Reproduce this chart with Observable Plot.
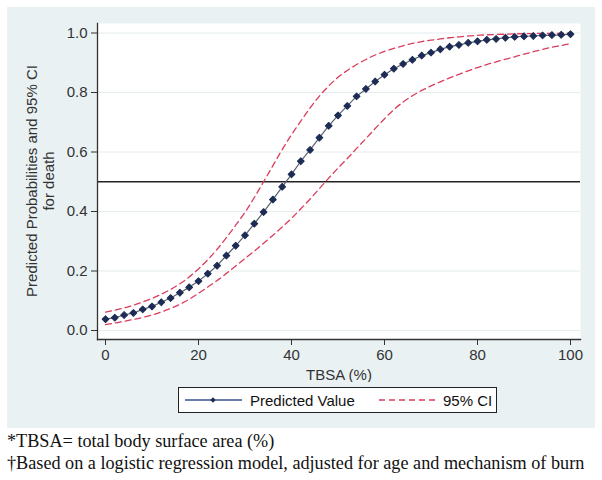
<!DOCTYPE html>
<html>
<head>
<meta charset="utf-8">
<script src="https://cdn.jsdelivr.net/npm/d3@7"></script>
<script src="https://cdn.jsdelivr.net/npm/@observablehq/plot@0.6"></script>
<style>
  html, body { margin: 0; padding: 0; background: #ffffff; }
  #panel { position: absolute; left: 7px; top: 7px; width: 588px; height: 421px; background: #e9f1f3; }
  #chart { position: absolute; left: 0; top: 0; }
  #legend { position: absolute; left: 171px; top: 380px; width: 317px; height: 24px; background: #fff; border: 1px solid #222; font-family: "Liberation Sans", Arial, sans-serif; font-size: 15px; color: #111; }
  #notes { position: absolute; left: 7px; top: 430px; font-family: "Liberation Serif", "DejaVu Serif", serif; font-size: 18.2px; line-height: 22px; color: #111; }
</style>
</head>
<body>
<div id="panel"><div id="chart"></div><div id="legend"></div></div>
<div id="notes">
  <div>*TBSA= total body surface area (%)</div>
  <div>†Based on a logistic regression model, adjusted for age and mechanism of burn</div>
</div>
<script>
const tbsa = [0,2,4,6,8,10,12,14,16,18,20,22,24,26,28,30,32,34,36,38,40,42,44,46,48,50,52,54,56,58,60,62,64,66,68,70,72,74,76,78,80,82,84,86,88,90,92,94,96,98,100];
const predicted = [0.038,0.043,0.052,0.059,0.071,0.081,0.095,0.109,0.127,0.145,0.166,0.191,0.218,0.252,0.285,0.320,0.359,0.398,0.440,0.483,0.525,0.569,0.607,0.648,0.688,0.723,0.755,0.787,0.812,0.837,0.860,0.880,0.896,0.910,0.924,0.934,0.945,0.954,0.960,0.967,0.972,0.977,0.980,0.984,0.987,0.989,0.990,0.992,0.993,0.994,0.996];
const upperCI = [0.062,0.068,0.076,0.085,0.096,0.108,0.122,0.138,0.157,0.180,0.207,0.238,0.273,0.312,0.354,0.397,0.447,0.500,0.554,0.608,0.658,0.704,0.748,0.788,0.822,0.851,0.874,0.894,0.911,0.926,0.938,0.948,0.957,0.965,0.971,0.976,0.980,0.984,0.987,0.990,0.992,0.994,0.995,0.996,0.997,0.998,0.998,0.999,0.999,0.999,1.000];
const lowerCI = [0.020,0.025,0.031,0.037,0.044,0.052,0.062,0.074,0.088,0.105,0.125,0.146,0.168,0.192,0.217,0.242,0.267,0.293,0.320,0.348,0.377,0.409,0.442,0.477,0.512,0.546,0.578,0.612,0.645,0.679,0.712,0.742,0.768,0.789,0.807,0.822,0.836,0.849,0.861,0.873,0.884,0.894,0.903,0.912,0.920,0.929,0.937,0.945,0.952,0.958,0.964];
const xTicks = [0,20,40,60,80,100];
const yTicks = [0,0.2,0.4,0.6,0.8,1.0];
const refLine = [0.5];
const xLabel = "TBSA (%)";
const yLabelLines = ["Predicted Probabilities and 95% CI", "for death"];
const legendLabels = ["Predicted Value", "95% CI"];

const rows = tbsa.map((x, i) => ({x, p: predicted[i], lo: lowerCI[i], hi: upperCI[i]}));

const navy = "#1c2c54";
const red = "#dc3c5c";
const font = "'Liberation Sans', Arial, sans-serif";

const chart = Plot.plot({
  width: 588, height: 375,
  marginLeft: 90, marginRight: 15, marginTop: 16, marginBottom: 43,
  insetLeft: 8, insetRight: 10, insetTop: 9.5, insetBottom: 9,
  style: {background: "transparent", fontFamily: font, fontSize: "15px", color: "#333"},
  x: {domain: [0, 100]},
  y: {domain: [0, 1]},
  marks: [
    Plot.frame({fill: "white", stroke: null}),
    Plot.gridY(yTicks, {stroke: "#e4ecef", strokeOpacity: 1}),
    Plot.ruleY(refLine, {stroke: "#222", strokeWidth: 1.4}),
    Plot.line(rows, {x: "x", y: "hi", stroke: red, strokeWidth: 1.3, strokeDasharray: "6,4", curve: "monotone-x"}),
    Plot.line(rows, {x: "x", y: "lo", stroke: red, strokeWidth: 1.3, strokeDasharray: "6,4", curve: "monotone-x"}),
    Plot.line(rows, {x: "x", y: "p", stroke: "#5a6070", strokeWidth: 1.2}),
    Plot.dot(rows, {x: "x", y: "p", symbol: "square", rotate: 45, fill: navy, r: 2.7, stroke: navy, strokeWidth: 1, strokeLinejoin: "round"}),
    Plot.frame({anchor: "left", stroke: "#333", strokeWidth: 1.3}),
    Plot.frame({anchor: "bottom", stroke: "#333", strokeWidth: 1.3}),
    Plot.axisY({ticks: yTicks, tickFormat: d3.format(".1f"), tickSize: 6, tickPadding: 4, label: null, stroke: "#333"}),
    Plot.axisX({ticks: xTicks, tickFormat: d3.format("d"), tickSize: 6, tickPadding: 4, label: xLabel, labelAnchor: "center", labelArrow: "none", labelOffset: 40, stroke: "#333"})
  ]
});
document.getElementById("chart").appendChild(chart);

// y axis title (two lines)
const svg = d3.select(chart);
const cy = (16 + 332) / 2;
[[26, yLabelLines[0]], [43, yLabelLines[1]]].forEach(([x, t]) => {
  svg.append("text")
    .attr("transform", `translate(${x},${cy}) rotate(-90)`)
    .attr("text-anchor", "middle")
    .attr("dominant-baseline", "middle")
    .attr("fill", "#333")
    .style("font-family", font)
    .style("font-size", "15px")
    .text(t);
});

// legend
const lg = d3.select("#legend").append("svg").attr("width", 317).attr("height", 24);
lg.append("line").attr("x1", 6).attr("x2", 63).attr("y1", 12).attr("y2", 12).attr("stroke", "#3c4f8c").attr("stroke-width", 1.3);
lg.append("path").attr("d", d3.symbol(d3.symbolSquare, 14)()).attr("transform", "translate(34,12) rotate(45)").attr("fill", navy);
lg.append("text").attr("x", 71).attr("y", 12).attr("dominant-baseline", "central").attr("fill", "#111").style("font-family", font).style("font-size", "15px").text(legendLabels[0]);
lg.append("line").attr("x1", 200).attr("x2", 256).attr("y1", 12).attr("y2", 12).attr("stroke", red).attr("stroke-width", 1.3).attr("stroke-dasharray", "6,4");
lg.append("text").attr("x", 264).attr("y", 12).attr("dominant-baseline", "central").attr("fill", "#111").style("font-family", font).style("font-size", "15px").text(legendLabels[1]);
</script>
</body>
</html>
